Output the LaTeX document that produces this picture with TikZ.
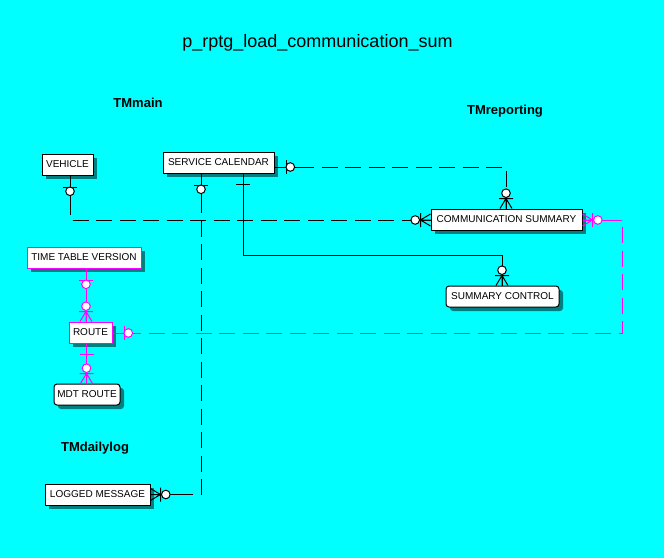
\documentclass[tikz,border=0pt]{standalone}
\usepackage{fontspec}
\setmainfont{Liberation Sans}
\usetikzlibrary{calc,shadows}
\definecolor{bgc}{RGB}{0,255,255}
\definecolor{ermag}{RGB}{255,0,255}
\definecolor{shd}{RGB}{0,128,128}
\begin{document}
\begin{tikzpicture}[x=1pt,y=-1pt,
  ent/.style={draw=black, fill=white, line width=1pt, minimum height=21pt, inner sep=0pt,
    font=\fontsize{10}{12}\selectfont,
    drop shadow={shadow xshift=4pt, shadow yshift=-4pt, fill=shd, opacity=1}},
  dep/.style={ent, rounded corners=3pt},
  magent/.style={ent, draw=ermag},
  rel/.style={line width=1pt},
  nonid/.style={rel, dash pattern=on 16pt off 7.5pt},
  grp/.style={font=\bfseries\fontsize{13}{15}\selectfont, anchor=base, inner sep=0pt},
  zo/.pic={\draw[line width=1pt] (11.5,-7) -- (11.5,7);
           \draw[line width=1pt, fill=white] (15.8,0) circle (4.3);},
  oo/.pic={\draw[line width=1pt] (11,-7) -- (11,7);},
  zm/.pic={\draw[line width=1pt] (0,-6) -- (10,0) -- (0,6) (0,0) -- (10,0) (10,-7) -- (10,7);
           \draw[line width=1pt, fill=white] (15.3,0) circle (4.3);}
]
\useasboundingbox (0,0) rectangle (664,558);
\fill[bgc] (0,0) rectangle (664,558);

% titles
\node[font=\fontsize{18}{20}\selectfont, anchor=base, inner sep=0pt] (title) at (317.5,47) {p\_rptg\_load\_communication\_sum};
\node[grp] (tmmain) at (138,107) {TMmain};
\node[grp] (tmrep) at (505,114) {TMreporting};
\node[grp] (tmdaily) at (95,451) {TMdailylog};

% entities
\node[ent, minimum width=51pt] (veh) at (67.5,164.5) {VEHICLE};
\node[ent, minimum width=111pt] (sc) at (218.5,162.5) {SERVICE CALENDAR};
\node[ent, minimum width=151pt] (comm) at (506.5,219.5) {COMMUNICATION SUMMARY};
\node[dep, minimum width=113pt] (sumctl) at (502.5,296.5) {SUMMARY CONTROL};
\node[magent, minimum width=114pt] (ttv) at (84,257.5) {TIME TABLE VERSION};
\node[magent, minimum width=43pt] (route) at (90.5,332.5) {ROUTE};
\node[dep, minimum width=66pt] (mdt) at (87,394.5) {MDT ROUTE};
\node[ent, minimum width=105pt] (logmsg) at (97.5,494.5) {LOGGED MESSAGE};

% connection points
\coordinate (A1) at ($(sc.east)+(0,4.5)$);
\coordinate (A2) at ($(comm.north)+(-0.5,0)$);
\coordinate (B1) at ($(veh.south)+(2.5,0)$);
\coordinate (B2) at ($(comm.west)+(0,0.5)$);
\coordinate (C1) at ($(sc.south)+(24.5,0)$);
\coordinate (C2) at ($(sumctl.north)+(-0.5,0)$);
\coordinate (D1) at ($(sc.south)+(-17.5,0)$);
\coordinate (D2) at ($(logmsg.east)+(0,0)$);
\coordinate (E1) at ($(ttv.south)+(2,0)$);
\coordinate (E2) at ($(route.north)+(-4.5,0)$);
\coordinate (F1) at ($(route.south)+(-4,0)$);
\coordinate (F2) at ($(mdt.north)+(-0.5,0)$);
\coordinate (G1) at ($(comm.east)+(0,0.5)$);
\coordinate (G2) at ($(route.east)+(0,0.5)$);

% relationships (black)
\draw[nonid] (A1) -| (A2);
\draw[rel] (A1) -- ++(29,0);
\draw[rel] (A2) -- ++(0,-20);

\draw[nonid] (B1) |- (B2);
\draw[rel] (B1) -- ++(0,28);
\draw[rel] (B2) -- ++(-20,0);

\draw[rel] (C1) -- ($(C1)+(0,82)$) -| (C2);

\draw[nonid] (D1) |- (D2);
\draw[rel] (D1) -- ++(0,28);
\draw[rel] (D2) -- ++(27,0);

% relationships (magenta)
\draw[nonid, ermag] (E1) -- (E2);
\draw[rel, ermag] (E1) -- ++(0,29);
\draw[rel, ermag] (E2) -- ++(0,-20);

\draw[rel, ermag] (F1) -- (F2);

\draw[nonid, ermag] (G1) -- ++(40,0) |- (G2);
\draw[rel, ermag] (G1) -- ++(31,0);
\draw[rel, ermag] (G2) -- ++(28,0);

% cardinality symbols
\pic at (A1) {zo};
\pic[rotate=90] at (A2) {zm};
\pic[rotate=-90] at (B1) {zo};
\pic[rotate=180] at (B2) {zm};
\pic[rotate=-90] at (C1) {oo};
\pic[rotate=90] at (C2) {zm};
\pic[rotate=-90] at (D1) {zo};
\pic at (D2) {zm};
\pic[rotate=-90, ermag] at (E1) {zo};
\pic[rotate=90, ermag] at (E2) {zm};
\pic[rotate=-90, ermag] at (F1) {oo};
\pic[rotate=90, ermag] at (F2) {zm};
\pic[ermag] at (G1) {zm};
\pic[ermag] at (G2) {zo};
\end{tikzpicture}
\end{document}
